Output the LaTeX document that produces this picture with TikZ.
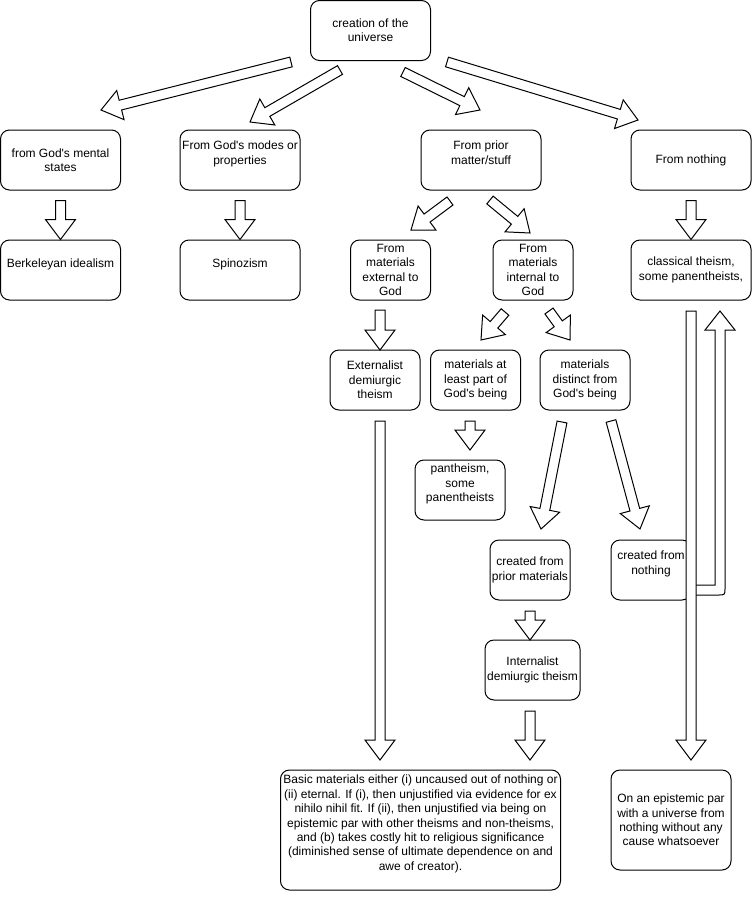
\documentclass[tikz,border=0pt]{standalone}
\usepackage{fontspec}
\setmainfont{Liberation Sans}
\usetikzlibrary{calc,positioning}

\newcommand{\hollowarrow}[2]{%
	\coordinate (hb) at ($(#2)!20pt!(#1)$);
	\draw [fat] ($(#1)!5pt!90:(#2)$) -- ($(hb)!5pt!-90:(#1)$) -- ($(hb)!15pt!-90:(#1)$) -- (#2)
		-- ($(hb)!15pt!90:(#1)$) -- ($(hb)!5pt!90:(#1)$) -- ($(#1)!5pt!-90:(#2)$) -- cycle;}

\begin{document}
\begin{tikzpicture}[x=1pt,y=-1pt,line width=1pt]
	\tikzstyle{block} = [draw, rounded corners=9pt, align=center, inner sep=0pt, minimum width=120pt, minimum height=60pt, font=\fontsize{12}{14.4}\selectfont]
	\tikzstyle{fat} = [draw, fill=white, line join=miter]
	\useasboundingbox (0,0) rectangle (753,900);
	
	\node [block] (creation) at (370.5,30.5) {creation of the\\universe};
	
	\node [block] (mental) at (60.5,160) {from God\textquotesingle s mental\\states};
	\node [block] (modes) at (240,160) {From God\textquotesingle s modes or\\properties\\ \mbox{}};
	\node [block] (prior) at (481,160) {From prior\\matter/stuff\\ \mbox{}};
	\node [block] (nothing) at (691,160) {From nothing};
	
	\node [block] (berkeley) at (60.5,270) {Berkeleyan idealism\\ \mbox{}};
	\node [block] (spinoza) at (240,270) {Spinozism\\ \mbox{}};
	\node [block, minimum width=80pt] (external) at (390.5,270) {From\\materials\\external to\\God};
	\node [block, minimum width=80pt] (internal) at (533,270) {From\\materials\\internal to\\God};
	\node [block] (classical) at (691,270) {classical theism,\\some panentheists,};
	
	\node [block, minimum width=90pt] (externalist) at (375,380) {Externalist\\demiurgic\\theism};
	\node [block, minimum width=90pt] (partof) at (475.5,380) {materials at\\least part of\\God\textquotesingle s being};
	\node [block, minimum width=90pt] (distinct) at (585,380) {materials\\distinct from\\God\textquotesingle s being};
	
	\node [block, minimum width=90pt] (pantheism) at (460,490) {pantheism,\\some\\panentheists\\ \mbox{}};
	\node [block, minimum width=80pt] (fromprior) at (530,570) {created from\\prior materials};
	\node [block, minimum width=80pt] (fromnothing) at (651,570) {created from\\nothing\\ \mbox{}};
	\node [block, minimum width=95pt] (internalist) at (532.5,670) {Internalist\\demiurgic theism};
	
	\node [block, minimum width=280pt, minimum height=120pt] (basic) at (420.5,830) {Basic materials either (i) uncaused out of nothing or\\(ii) eternal. If (i), then unjustified via evidence for ex\\nihilo nihil fit. If (ii), then unjustified via being on\\epistemic par with other theisms and non-theisms,\\and (b) takes costly hit to religious significance\\(diminished sense of ultimate dependence on and\\awe of creator).\\ \mbox{}};
	\node [block, minimum height=100pt] (epistemic) at (671,820) {On an epistemic par\\with a universe from\\nothing without any\\cause whatsoever};
	
	% ends of the arrows
	\coordinate (c1) at (291,62);  \coordinate (d1) at (101,110);
	\coordinate (c2) at (340,70);  \coordinate (d2) at (250,122);
	\coordinate (c3) at (403,72);  \coordinate (d3) at (480,110);
	\coordinate (c4) at (447,62);  \coordinate (d4) at (638,120);
	\node [coordinate, below = 10pt of mental] (c5) {};
	\node [coordinate, below = 10pt of modes] (c6) {};
	\node [coordinate, below = 10pt of nothing] (c7) {};
	\coordinate (c8) at (450,201);  \coordinate (d8) at (411,230);
	\coordinate (c9) at (490,200);  \coordinate (d9) at (530,233);
	\coordinate (c10) at (380,310); \coordinate (d10) at (380,350);
	\coordinate (c11) at (505,312); \coordinate (d11) at (481,340);
	\coordinate (c12) at (549,311); \coordinate (d12) at (570,340);
	\coordinate (c13) at (470,421); \coordinate (d13) at (470,450);
	\coordinate (c14) at (562,422); \coordinate (d14) at (541,529);
	\coordinate (c15) at (611,421); \coordinate (d15) at (640,529);
	\coordinate (c16) at (530,611); \coordinate (d16) at (530,640);
	\coordinate (c17) at (530,711); \coordinate (d17) at (530,760);
	\coordinate (c18) at (380,421); \coordinate (d18) at (380,760);
	\coordinate (c19) at (691,311); \coordinate (d19) at (691,760);
	\coordinate (e0) at (691,590);  \coordinate (e1) at (720,590);  \coordinate (e2) at (720,311);
	
	\hollowarrow{c1}{d1}
	\hollowarrow{c2}{d2}
	\hollowarrow{c3}{d3}
	\hollowarrow{c4}{d4}
	\hollowarrow{c5}{berkeley.north}
	\hollowarrow{c6}{spinoza.north}
	\hollowarrow{c7}{classical.north}
	\hollowarrow{c8}{d8}
	\hollowarrow{c9}{d9}
	\hollowarrow{c10}{d10}
	\hollowarrow{c11}{d11}
	\hollowarrow{c12}{d12}
	\hollowarrow{c13}{d13}
	\hollowarrow{c14}{d14}
	\hollowarrow{c15}{d15}
	\hollowarrow{c16}{d16}
	\hollowarrow{c17}{d17}
	\hollowarrow{c18}{d18}
	
	% back up to classical theism
	\draw [fat] ($(e0)+(0,-5)$) -- ($(e1)+(-5,-5)$) -- ($(e2)+(-5,19)$) -- ($(e2)+(-15,19)$) -- (e2)
		-- ($(e2)+(15,19)$) -- ($(e2)+(5,19)$) -- ($(e1)+(5,-2)$) .. controls ($(e1)+(5,5)$) .. ($(e1)+(-2,5)$)
		-- ($(e0)+(0,5)$) -- cycle;
	\hollowarrow{c19}{d19}
\end{tikzpicture}
\end{document}
